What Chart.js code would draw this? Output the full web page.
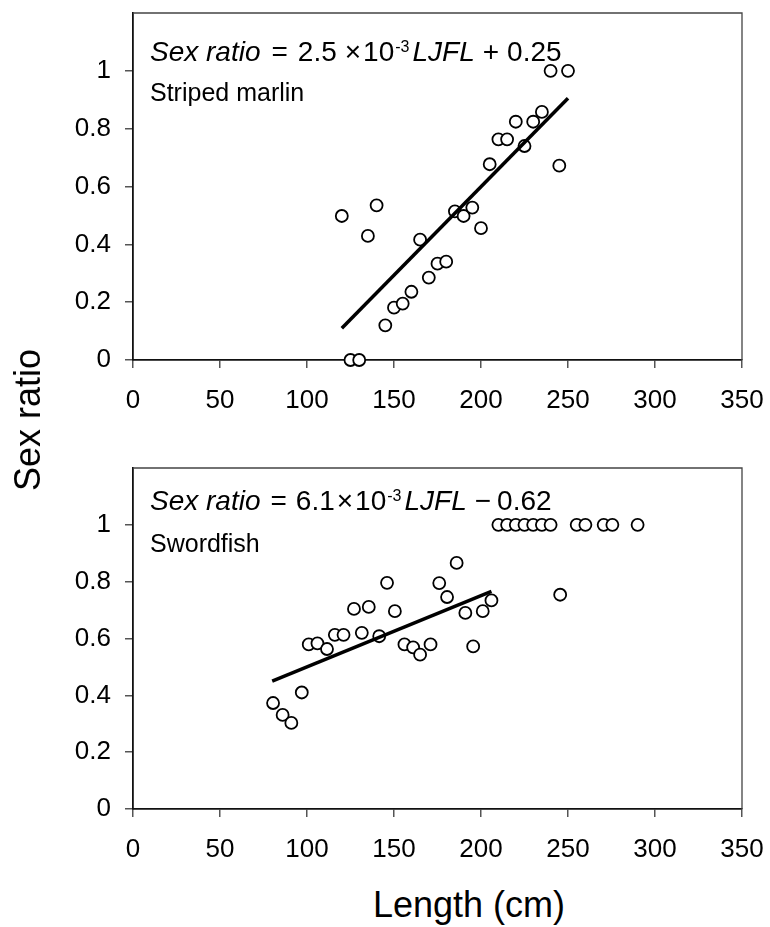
<!DOCTYPE html>
<html>
<head>
<meta charset="utf-8">
<script src="https://cdn.jsdelivr.net/npm/chart.js@4.4.1/dist/chart.umd.min.js"></script>
<style>
  body { margin: 0; background: #fff; }
  #wrap { position: relative; width: 770px; height: 927px; font-family: "Liberation Sans", Arial, sans-serif; }
  canvas { position: absolute; left: 0; }
  #cTop { top: 0; }
  #cBot { top: 420px; }
  .ytitle {
    position: absolute; left: 28px; top: 420px; font-size: 36px; line-height: 36px;
    white-space: nowrap; transform: translate(-50%, -50%) rotate(-90deg);
  }
  .xtitle {
    position: absolute; left: 469px; top: 887px; font-size: 36px; line-height: 36px;
    white-space: nowrap; transform: translateX(-50%);
  }
</style>
</head>
<body>
<div id="wrap">
  <canvas id="cTop" width="770" height="420"></canvas>
  <canvas id="cBot" width="770" height="450"></canvas>
  <div class="ytitle">Sex ratio</div>
  <div class="xtitle">Length (cm)</div>
</div>
<script>
// --- Dados: marlin listrado (Striped marlin) ---
const marlinLength = [120, 125, 130, 135, 140, 145, 150, 155, 160, 165, 170, 175, 180, 185,
  190, 195, 200, 205, 210, 215, 220, 225, 230, 235, 240, 245, 250];
const marlinRatio = [0.498, 0, 0, 0.429, 0.535, 0.12, 0.181, 0.195, 0.236, 0.416, 0.285, 0.333, 0.34, 0.514,
  0.498, 0.527, 0.456, 0.677, 0.763, 0.763, 0.824, 0.74, 0.824, 0.858, 1, 0.672, 1];
const marlinFitX = [120, 250];
const marlinFitY = [0.11, 0.905];

// --- Dados: espadarte (Swordfish) ---
const swordLength = [80.5, 86, 91, 97, 101, 106, 111.5, 116, 121, 127, 131.5, 135.5, 141.5, 146,
  150.5, 156, 161, 165, 171, 176, 180.5, 186, 191, 195.5, 201, 206,
  210, 215, 220, 225, 230, 235, 240, 245.5, 255, 260, 270.5, 275.5, 290];
const swordRatio = [0.373, 0.331, 0.303, 0.41, 0.579, 0.583, 0.563, 0.613, 0.613, 0.704, 0.62, 0.711, 0.608, 0.796,
  0.696, 0.579, 0.569, 0.543, 0.579, 0.795, 0.746, 0.866, 0.69, 0.572, 0.696, 0.734,
  1, 1, 1, 1, 1, 1, 1, 0.754, 1, 1, 1, 1, 1];
const swordFitX = [80, 206];
const swordFitY = [0.45, 0.766];

// --- Eixos ---
const xTicks = [0, 50, 100, 150, 200, 250, 300, 350];
const yTicks = [0, 0.2, 0.4, 0.6, 0.8, 1];

const FONT = '"Liberation Sans", Arial, sans-serif';
const toPts = (xs, ys) => xs.map((x, i) => ({ x, y: ys[i] }));

// equacao + nome da especie
const drawEq = (ctx, x, y, pieces) => {
  pieces.forEach((p) => {
    x += p.gap || 0;
    const size = p.sup ? 16 : 28;
    ctx.font = (p.it ? "italic " : "") + size + "px " + FONT;
    ctx.fillText(p.t, x, p.sup ? y - 9 : y);
    x += ctx.measureText(p.t).width;
  });
};

function makeChart(id, pts, fit, pad, eq, species) {
  const h = document.getElementById(id).height;
  const areaH = pad === 13 ? 347 : 341;
  const annot = {
    id: "annot",
    beforeDatasetsDraw(chart) {
      const { ctx, chartArea: a } = chart;
      ctx.save();
      ctx.strokeStyle = "#444";
      ctx.lineWidth = 1.3;
      ctx.beginPath();
      ctx.moveTo(a.left, a.top);
      ctx.lineTo(a.right, a.top);
      ctx.lineTo(a.right, a.bottom);
      ctx.stroke();
      ctx.restore();
    },
    afterDraw(chart) {
      const { ctx } = chart;
      ctx.save();
      ctx.fillStyle = "#000";
      ctx.textBaseline = "alphabetic";
      drawEq(ctx, 150, eq.y, eq.pieces);
      ctx.font = "25px " + FONT;
      ctx.fillText(species.t, 150, species.y);
      ctx.restore();
    },
  };

  return new Chart(document.getElementById(id), {
    type: "scatter",
    data: {
      datasets: [
        {
          type: "line",
          data: fit,
          borderColor: "#000",
          borderWidth: 3.5,
          pointRadius: 0,
          order: 0,
        },
        {
          data: pts,
          pointRadius: 6,
          pointBorderWidth: 1.8,
          pointBorderColor: "#000",
          pointBackgroundColor: "#fff",
          clip: false,
          order: 1,
        },
      ],
    },
    options: {
      responsive: false,
      animation: false,
      devicePixelRatio: 1,
      layout: { padding: { left: 0, top: pad, right: 28, bottom: 0 } },
      plugins: { legend: { display: false }, tooltip: { enabled: false } },
      scales: {
        x: {
          type: "linear",
          min: xTicks[0],
          max: xTicks[xTicks.length - 1],
          afterBuildTicks: (s) => { s.ticks = xTicks.map((v) => ({ value: v })); },
          afterFit: (s) => {
            s.height = h - pad - areaH;
            s.paddingLeft = 0;
            s.paddingRight = 0;
          },
          grid: { drawOnChartArea: false, tickLength: 8, color: "#555", lineWidth: 1.5 },
          border: { color: "#111", width: 1.8 },
          ticks: { color: "#000", padding: 17, font: { family: FONT, size: 26 } },
        },
        y: {
          min: 0,
          max: 1.2,
          afterBuildTicks: (s) => { s.ticks = yTicks.map((v) => ({ value: v })); },
          afterFit: (s) => {
            s.width = 133;
            s.paddingTop = 0;
            s.paddingBottom = 0;
          },
          grid: { drawOnChartArea: false, tickLength: 8, color: "#555", lineWidth: 1.5 },
          border: { color: "#111", width: 1.8 },
          ticks: {
            color: "#000",
            padding: 14,
            font: { family: FONT, size: 26 },
            callback: (v) => String(Math.round(v * 10) / 10),
          },
        },
      },
    },
    plugins: [annot],
  });
}

// --- Grafico superior ---
makeChart("cTop", toPts(marlinLength, marlinRatio), toPts(marlinFitX, marlinFitY), 13,
  {
    y: 61,
    pieces: [
      { t: "Sex ratio", it: 1 }, { t: "=", gap: 11 }, { t: "2.5", gap: 10 }, { t: "\u00d7", gap: 8 },
      { t: "10", gap: 2 }, { t: "-3", sup: 1, gap: 1 }, { t: "LJFL", it: 1, gap: 3 },
      { t: "+", gap: 8 }, { t: "0.25", gap: 8 },
    ],
  },
  { t: "Striped marlin", y: 101 });

// --- Grafico inferior ---
makeChart("cBot", toPts(swordLength, swordRatio), toPts(swordFitX, swordFitY), 48,
  {
    y: 90,
    pieces: [
      { t: "Sex ratio", it: 1 }, { t: "=", gap: 10 }, { t: "6.1", gap: 9 }, { t: "\u00d7", gap: 2 },
      { t: "10", gap: 2 }, { t: "-3", sup: 1, gap: 1 }, { t: "LJFL", it: 1, gap: 3 },
      { t: "\u2212", gap: 8 }, { t: "0.62", gap: 6 },
    ],
  },
  { t: "Swordfish", y: 132 });
</script>
</body>
</html>
